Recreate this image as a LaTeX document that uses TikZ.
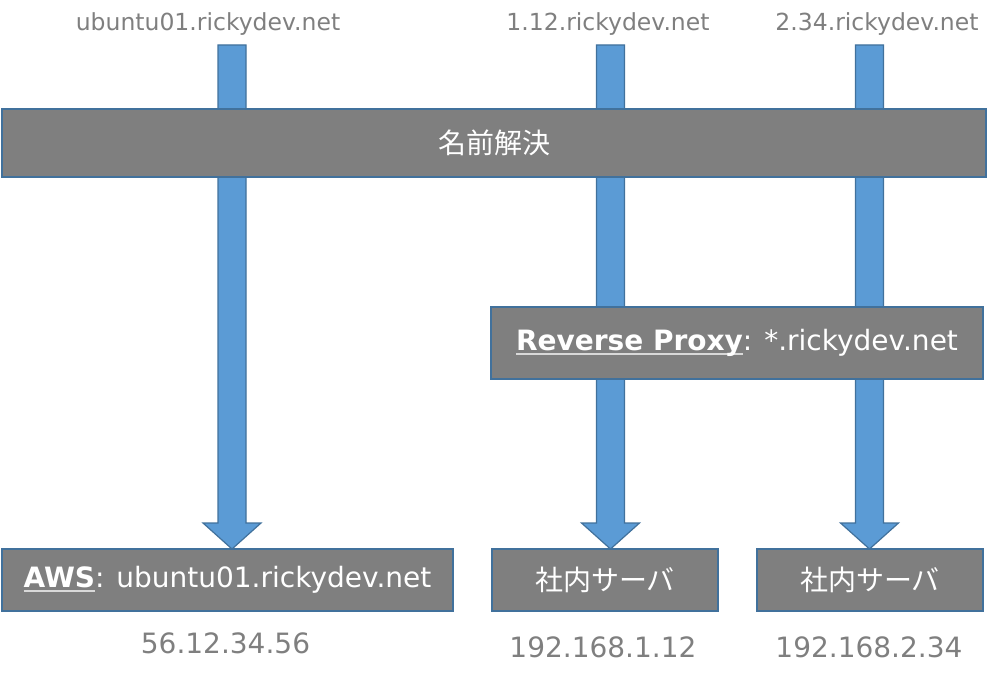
\documentclass[tikz,border=0pt]{standalone}
\usepackage{fontspec}
\setmainfont{DejaVu Sans}
\newfontfamily\jp{Noto Sans CJK JP}
\usetikzlibrary{calc,backgrounds}
\definecolor{boxgray}{HTML}{7F7F7F}
\definecolor{boxedge}{HTML}{41719C}
\definecolor{arrowblue}{HTML}{5B9BD5}
\definecolor{labelgray}{HTML}{7F7F7F}
\definecolor{ulgray}{HTML}{D9D9D9}
\newcommand\myul[1]{\setbox0\hbox{#1}\rlap{\color{ulgray}\rule[-4pt]{\wd0}{1.6pt}}\box0}
\newcommand\blockarrow[2]{%
  \draw[barrow] ($(#1)+(-14,0)$) -- ($(#2)+(-14,-26)$) -- ($(#2)+(-29,-26)$) -- (#2)
    -- ($(#2)+(29,-26)$) -- ($(#2)+(14,-26)$) -- ($(#1)+(14,0)$) -- cycle;}
\begin{document}
\begin{tikzpicture}[x=1pt,y=-1pt,
  box/.style={draw=boxedge, fill=boxgray, line width=1.5pt, text=white, inner sep=0pt, outer sep=0pt,
    font=\fontsize{28}{32}\selectfont},
  toplabel/.style={text=labelgray, anchor=base, inner sep=0pt, font=\fontsize{23.5}{28}\selectfont},
  iplabel/.style={text=labelgray, anchor=base, inner sep=0pt, font=\fontsize{28}{32}\selectfont},
  barrow/.style={draw=boxedge, fill=arrowblue, line width=1.2pt, line join=miter}]
\useasboundingbox (0,0) rectangle (1000,684);
% labels on top
\node[toplabel] (l1) at (208,31) {ubuntu01.rickydev.net};
\node[toplabel] (l2) at (608,31) {1.12.rickydev.net};
\node[toplabel] (l3) at (877,31) {2.34.rickydev.net};
% boxes
\node[box, minimum width=984pt, minimum height=68pt] (ns) at (494,143) {\jp 名前解決};
\node[box, minimum width=492pt, minimum height=72pt] (rp) at (737,343) {\myul{\textbf{Reverse Proxy}}: *.rickydev.net};
\node[box, minimum width=451pt, minimum height=62pt] (aws) at (227.5,580) {\myul{\textbf{AWS}}: ubuntu01.rickydev.net};
\node[box, minimum width=226pt, minimum height=62pt] (s1) at (605,580) {\jp 社内サーバ};
\node[box, minimum width=226pt, minimum height=62pt] (s2) at (870,580) {\jp 社内サーバ};
% IP labels
\node[iplabel] (ip1) at (225.5,653) {56.12.34.56};
\node[iplabel] (ip2) at (603,657) {192.168.1.12};
\node[iplabel] (ip3) at (869,657) {192.168.2.34};
% arrows
\coordinate (a1) at (232,45);
\coordinate (a2) at (610.5,45);
\coordinate (a3) at (869.5,45);
\coordinate (t1) at (a1 |- aws.north);
\coordinate (t2) at (a2 |- s1.north);
\coordinate (t3) at (a3 |- s2.north);
\begin{scope}[on background layer]
\blockarrow{a1}{t1}
\blockarrow{a2}{t2}
\blockarrow{a3}{t3}
\end{scope}
\end{tikzpicture}
\end{document}
